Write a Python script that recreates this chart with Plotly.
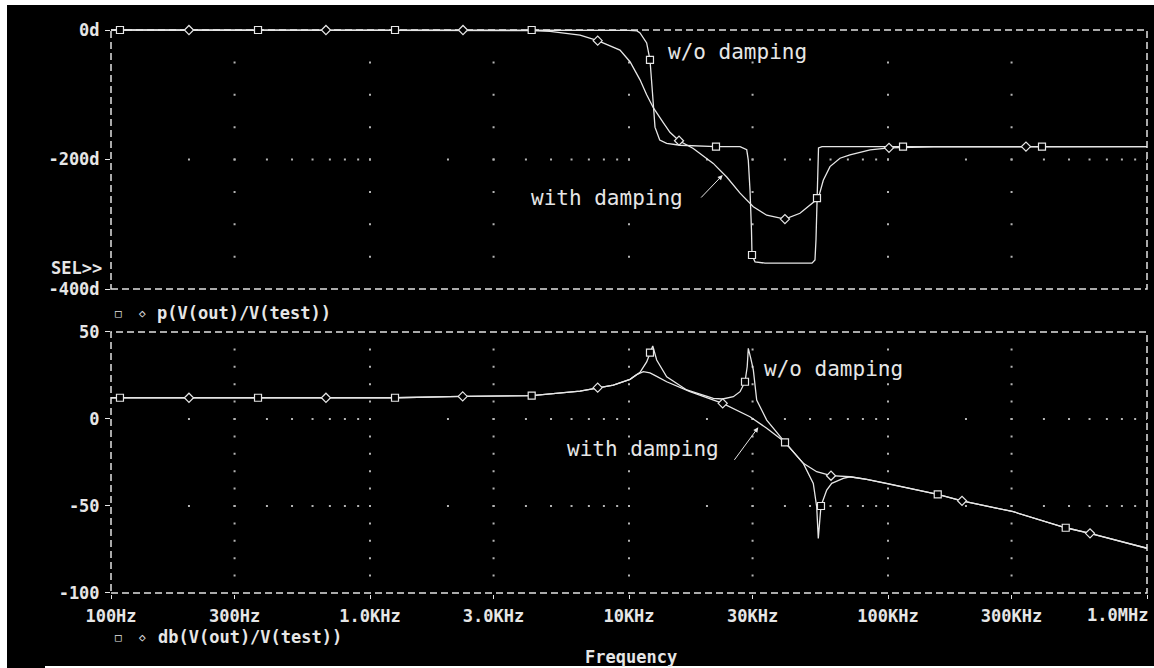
import plotly.graph_objects as go

# ---------------- data ----------------
# Phase of V(out)/V(test), degrees
ph_nodamp_f = [100, 4210, 10000, 10740, 11030, 11700, 12050, 12380, 12600, 13140, 13980,
               15740, 21670, 26840, 28480, 28880, 29320, 29710, 29850, 30660, 33500,
               50880, 52250, 52720, 53190, 53440, 53920, 55600, 1e6]
ph_nodamp = [0, 0, -0.5, -1.5, -4.6, -20, -46, -108, -150, -170, -175,
             -178, -180, -180, -185, -201, -247, -309, -347.5, -358, -360,
             -360, -355, -324, -259.5, -200, -182, -180, -180]

ph_damp_f = [100, 3000, 4210, 4955, 6471, 7570, 9230, 10090, 11030, 11700, 12410, 13560,
             14390, 15600, 17710, 21150, 23840, 26840, 30200, 34030, 40000, 45720,
             49990, 53810, 56250, 59700, 65260, 71300, 85300, 100900, 150000, 1e6]
ph_damp = [0, -0.3, -1, -2, -8, -16.5, -31, -49, -77, -100, -120, -143,
           -158, -171, -183, -206, -227, -252, -273, -286, -292, -283,
           -270, -260, -232, -211, -198, -193, -185, -182, -180.5, -180]

ph_sq_f = [108.3, 369.5, 1249, 4210, 12050, 21670, 29850, 53190, 114300, 393200]
ph_sq = [0, 0, 0, 0, -46, -180, -347.5, -259.5, -180, -180]
ph_dm_f = [200, 676, 2286, 7570, 15600, 40000, 100900, 341000]
ph_dm = [0, 0, 0, -16.5, -171, -292, -182, -180]

# Magnitude of V(out)/V(test), dB
db_nodamp_f = [100, 1249, 2280, 4210, 6470, 7570, 8700, 10090, 11030, 11700, 12050, 12350,
               12790, 13980, 16710, 21160, 23000, 25280, 26840, 28050, 28600, 28880, 29510,
               30200, 31120, 34020, 40030, 47100, 51470, 53050, 53810, 55110, 57990,
               60630, 67200, 71340, 82770, 98860, 155600, 193100, 304600, 485500,
               602500, 1e6]
db_nodamp = [12.2, 12.2, 13.0, 13.4, 16.0, 18.0, 19.5, 22.8, 26.8, 32.8, 38.1, 42.0,
             33.9, 24.3, 16.7, 11.9, 11.5, 12.8, 15.7, 21.4, 30.0, 40.6, 35.0,
             28.2, 10.9, -0.6, -13.4, -25.5, -37.0, -50.4, -68.6, -50.0, -40.8,
             -37.0, -34.1, -33.2, -34.7, -37.0, -43.3, -47.0, -53.3, -62.5,
             -65.7, -74.3]

db_damp_f = [100, 1249, 2280, 4210, 6470, 7570, 8700, 10090, 10710, 11360, 12050, 12790,
             13980, 17200, 23000, 29320, 34020, 40030, 47100, 53050, 60250, 71340,
             82770, 98860, 155600, 193100, 304600, 485500, 602500, 1e6]
db_damp = [12.2, 12.2, 13.0, 13.4, 16.0, 18.0, 19.5, 22.8, 25.5, 27.2, 26.5, 24.5,
           21.4, 15.7, 9.0, 1.3, -5.3, -13.4, -25.5, -30.3, -32.6, -33.2,
           -34.7, -37.0, -43.3, -47.0, -53.3, -62.5, -65.7, -74.3]

db_sq_f = [108.3, 369.5, 1249, 4210, 12050, 28050, 40030, 55110, 155600, 485500]
db_sq = [12.2, 12.2, 12.2, 13.4, 38.1, 21.4, -13.4, -50.0, -43.3, -62.5]
db_dm_f = [200, 676, 2280, 7570, 23000, 60250, 193100, 602500]
db_dm = [12.2, 12.2, 13.0, 18.0, 9.0, -32.6, -47.0, -65.7]

# Axis ticks
x_tickvals = [100, 300, 1000, 3000, 1e4, 3e4, 1e5, 3e5, 1e6]
x_ticktext = ["100Hz", "300Hz", "1.0KHz", "3.0KHz", "10KHz", "30KHz", "100KHz", "300KHz", "1.0MHz"]
ph_tickvals = [0, -200, -400]
ph_ticktext = ["0d", "-200d", "-400d"]
db_tickvals = [50, 0, -50, -100]
db_ticktext = ["50", "0", "-50", "-100"]

# ---------------- styling ----------------
W, H = 1154, 668
FG = "#e6e6e6"
GRID = "#b4b4b4"
MONO = "DejaVu Sans Mono"

X0, X1 = 111, 1147          # plot left / right edge (px)
TOP_Y0, TOP_Y1 = 30, 289    # phase plot top / bottom (px)
BOT_Y0, BOT_Y1 = 332, 593   # magnitude plot top / bottom (px)


def px_x(p):
    return p / W


def px_y(p):
    return 1 - p / H


fig = go.Figure()

# grid dots: vertical lines at labelled frequencies, horizontal lines at minor decades
major_x = x_tickvals[1:-1]
minor_x = [k * 10 ** d for d in range(2, 6) for k in range(2, 11)]


def grid_dots(xa, ya, v_steps, h_levels):
    gx, gy = [], []
    for f in major_x:
        for v in v_steps:
            gx.append(f)
            gy.append(v)
    for lvl in h_levels:
        for f in minor_x:
            gx.append(f)
            gy.append(lvl)
    fig.add_trace(go.Scatter(x=gx, y=gy, mode="markers", xaxis=xa, yaxis=ya,
                             marker=dict(symbol="square", size=2, color=GRID,
                                         line=dict(width=0)),
                             hoverinfo="skip", showlegend=False))


grid_dots("x2", "y2", list(range(-50, -400, -50)), [-200])
grid_dots("x", "y", list(range(40, -100, -10)), [0, -50])

line_style = dict(color=FG, width=1.3)


def trace(xa, ya, fx, fy):
    fig.add_trace(go.Scatter(x=fx, y=fy, mode="lines", xaxis=xa, yaxis=ya,
                             line=line_style, hoverinfo="skip", showlegend=False))


def marks(xa, ya, fx, fy, symbol):
    fig.add_trace(go.Scatter(x=fx, y=fy, mode="markers", xaxis=xa, yaxis=ya,
                             marker=dict(symbol=symbol, size=7, color="black",
                                         line=dict(color=FG, width=1.2)),
                             cliponaxis=False, hoverinfo="skip", showlegend=False))


trace("x2", "y2", ph_nodamp_f, ph_nodamp)
trace("x2", "y2", ph_damp_f, ph_damp)
marks("x2", "y2", ph_sq_f, ph_sq, "square")
marks("x2", "y2", ph_dm_f, ph_dm, "diamond")

trace("x", "y", db_nodamp_f, db_nodamp)
trace("x", "y", db_damp_f, db_damp)
marks("x", "y", db_sq_f, db_sq, "square")
marks("x", "y", db_dm_f, db_dm, "diamond")

tick_font = dict(family=MONO, size=17, color=FG, weight="bold")

# the y ranges are padded a little so traces lying on the frame are not clipped
ph_pad = 2.0
db_pad = 0.8
ph_scale = (TOP_Y1 - TOP_Y0) / 400.0
db_scale = (BOT_Y1 - BOT_Y0) / 150.0

# the last frequency label is placed separately so it stays inside the page
x_ticktext_axis = x_ticktext[:-1] + [""]

fig.update_layout(
    width=W, height=H,
    margin=dict(l=0, r=0, t=0, b=0, autoexpand=False),
    paper_bgcolor="black", plot_bgcolor="rgba(0,0,0,0)",
    showlegend=False,
    xaxis=dict(type="log", range=[2, 6], domain=[px_x(X0), px_x(X1)], anchor="y",
               automargin=False,
               showgrid=False, zeroline=False, showline=False,
               tickvals=x_tickvals, ticktext=x_ticktext_axis,
               ticks="outside", ticklen=4, tickcolor=FG, tickwidth=1,
               tickfont=tick_font, ticklabelstandoff=2),
    yaxis=dict(range=[-100 - db_pad, 50 + db_pad],
               domain=[px_y(BOT_Y1 + db_pad * db_scale), px_y(BOT_Y0 - db_pad * db_scale)],
               anchor="x", automargin=False,
               showgrid=False, zeroline=False, showline=False,
               tickvals=db_tickvals, ticktext=db_ticktext,
               ticks="outside", ticklen=5, tickcolor=FG, tickwidth=1,
               tickfont=tick_font, ticklabelstandoff=2),
    xaxis2=dict(type="log", range=[2, 6], domain=[px_x(X0), px_x(X1)], anchor="y2",
                automargin=False,
                showgrid=False, zeroline=False, showline=False,
                showticklabels=False, ticks=""),
    yaxis2=dict(range=[-400 - ph_pad, 0 + ph_pad],
                domain=[px_y(TOP_Y1 + ph_pad * ph_scale), px_y(TOP_Y0 - ph_pad * ph_scale)],
                anchor="x2", automargin=False,
                showgrid=False, zeroline=False, showline=False,
                tickvals=ph_tickvals, ticktext=ph_ticktext,
                ticks="outside", ticklen=5, tickcolor=FG, tickwidth=1,
                tickfont=tick_font, ticklabelstandoff=2),
)

# dashed frames around both plots
frame = dict(color="#e2e2e2", width=1.5, dash="7px,4px")
for y0, y1 in [(TOP_Y0, TOP_Y1), (BOT_Y0, BOT_Y1)]:
    fig.add_shape(type="rect", xref="paper", yref="paper",
                  x0=px_x(X0), x1=px_x(X1), y0=px_y(y1), y1=px_y(y0),
                  line=frame, layer="below")

# page border strips
for x0, x1, y0, y1 in [(0, 7, 0, H), (0, W, 0, 5), (45, W, 666, H)]:
    fig.add_shape(type="rect", xref="paper", yref="paper",
                  x0=px_x(x0), x1=px_x(x1), y0=px_y(y1), y1=px_y(y0),
                  line=dict(width=0), fillcolor="white", layer="above")

label_font = dict(family=MONO, size=21, color=FG)
bold_font = dict(family=MONO, size=17, color=FG, weight="bold")


def note(text, xa, ya, f_log, v):
    fig.add_annotation(text=text, xref=xa, yref=ya, x=f_log, y=v,
                       xanchor="left", yanchor="middle", showarrow=False,
                       font=label_font)


def pointer(xa, ya, f_log, v, ax, ay):
    fig.add_annotation(text="", xref=xa, yref=ya, x=f_log, y=v, ax=ax, ay=ay,
                       showarrow=True, arrowhead=2, arrowsize=1, arrowwidth=1,
                       arrowcolor=FG)


note("w/o damping", "x2", "y2", 4.143, -34)
note("with damping", "x2", "y2", 3.614, -259)
pointer("x2", "y2", 4.3617, -224, -23, 24)

note("w/o damping", "x", "y", 4.512, 28.7)
note("with damping", "x", "y", 3.753, -17.4)
pointer("x", "y", 4.4992, -4.8, -25, 34)


def paper_text(text, x, y, font, anchor="left"):
    fig.add_annotation(text=text, xref="paper", yref="paper", x=px_x(x), y=px_y(y),
                       xanchor=anchor, yanchor="middle", showarrow=False, font=font)


sym_font = dict(family=MONO, size=11, color=FG)
paper_text(x_ticktext[-1], 1150, 615, tick_font, "right")
paper_text("SEL>>", 104, 268, bold_font, "right")
paper_text("\u25a1", 118, 313, sym_font, "center")
paper_text("\u25c7", 142, 313, sym_font, "center")
paper_text("p(V(out)/V(test))", 155, 313, bold_font)
paper_text("\u25a1", 118, 637, sym_font, "center")
paper_text("\u25c7", 142, 637, sym_font, "center")
paper_text("db(V(out)/V(test))", 156, 637, bold_font)
paper_text("Frequency", 631, 657, bold_font, "center")

fig.write_html("out.html")
